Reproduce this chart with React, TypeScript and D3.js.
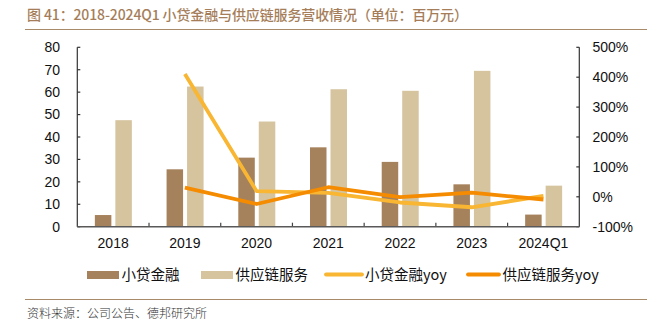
import React from "react";
import * as d3 from "d3";

const categories = ["2018", "2019", "2020", "2021", "2022", "2023", "2024Q1"];
const microLoan = [5.2, 25.6, 30.8, 35.4, 28.9, 18.9, 5.4];
const supplyChain = [47.5, 62.5, 46.9, 61.3, 60.6, 69.5, 18.3];
const microLoanYoy: (number | null)[] = [null, 411, 19, 13, -19, -35, 3];
const supplyChainYoy: (number | null)[] = [null, 31, -24, 32, -1, 14, -9];
const leftTicks = [0, 10, 20, 30, 40, 50, 60, 70, 80];
const rightTicks = [-100, 0, 100, 200, 300, 400, 500];

const title = "图 41：2018-2024Q1 小贷金融与供应链服务营收情况（单位：百万元）";
const source = "资料来源：公司公告、德邦研究所";
const seriesNames = ["小贷金融", "供应链服务", "小贷金融yoy", "供应链服务yoy"];

const C_DARK = "#A6825C";
const C_LIGHT = "#D5C49E";
const C_YEL = "#F8B632";
const C_ORG = "#F58B00";
const C_TAN = "#A88A68";

export default function App() {
  const W = 658, H = 331;
  const left = 77.3, right = 579.3, top = 47.3, bottom = 226.7;
  const x0 = d3.scaleBand<string>().domain(categories).range([left, right]).paddingInner(0).paddingOuter(0);
  const bw = x0.bandwidth();
  const x1 = d3.scaleBand<string>().domain(["a", "b"]).range([bw / 2 - 18.3, bw / 2 + 18.7]).paddingInner(0.195);
  const yL = d3.scaleLinear().domain([0, 80]).range([bottom, top]);
  const yR = d3.scaleLinear().domain([-100, 500]).range([bottom, top]);
  const cx = (c: string) => (x0(c) as number) + bw / 2;

  const line = d3
    .line<number | null>()
    .defined((d) => d !== null)
    .x((_, i) => cx(categories[i]))
    .y((d) => yR(d as number));

  const font = "'Liberation Sans', Arial, sans-serif";
  const cjk = "'Noto Sans CJK SC', 'Liberation Sans', sans-serif";

  return (
    <svg width={W} height={H} style={{ position: "absolute", left: 0, top: 0, background: "#fff" }}>
      <text x={27} y={20} fontFamily={cjk} fontSize={14} fontWeight={500} fill="#A57E59" textLength={441} lengthAdjust="spacing">
        {title}
      </text>
      <line x1={25} x2={647} y1={29.5} y2={29.5} stroke={C_TAN} strokeWidth={1.2} />

      {/* bars */}
      {categories.map((c, i) => (
        <g key={c} transform={`translate(${x0(c)},0)`}>
          <rect x={x1("a")} width={x1.bandwidth()} y={yL(microLoan[i])} height={yL(0) - yL(microLoan[i])} fill={C_DARK} />
          <rect x={x1("b")} width={x1.bandwidth()} y={yL(supplyChain[i])} height={yL(0) - yL(supplyChain[i])} fill={C_LIGHT} />
        </g>
      ))}

      {/* axes */}
      <line x1={left} x2={left} y1={top} y2={bottom} stroke="#333" strokeWidth={1.2} />
      <line x1={right} x2={right} y1={top} y2={bottom} stroke="#333" strokeWidth={1.2} />
      {leftTicks.map((t) => (
        <g key={"l" + t}>
          <line x1={left} x2={left + 3} y1={yL(t)} y2={yL(t)} stroke="#333" strokeWidth={1.2} />
          <text x={60} y={yL(t)} dy="0.35em" textAnchor="end" fontFamily={font} fontSize={14} fill="#111">
            {t}
          </text>
        </g>
      ))}
      {rightTicks.map((t) => (
        <g key={"r" + t}>
          <line x1={right - 3} x2={right} y1={yR(t)} y2={yR(t)} stroke="#333" strokeWidth={1.2} />
          <text x={592.5} y={yR(t)} dy="0.35em" textAnchor="start" fontFamily={font} fontSize={14} fill="#111">
            {t}%
          </text>
        </g>
      ))}
      {categories.slice(1).map((c) => (
        <line key={"t" + c} x1={x0(c)} x2={x0(c)} y1={bottom - 4} y2={bottom} stroke="#444" strokeWidth={1.2} />
      ))}
      <line x1={left} x2={right} y1={bottom} y2={bottom} stroke="#595959" strokeWidth={1.6} />
      {categories.map((c) => (
        <text key={"x" + c} x={cx(c)} y={243} dy="0.35em" textAnchor="middle" fontFamily={font} fontSize={14} fill="#111">
          {c}
        </text>
      ))}

      {/* lines */}
      <path d={line(microLoanYoy) || ""} fill="none" stroke={C_YEL} strokeWidth={3.8} strokeLinejoin="round" />
      <path d={line(supplyChainYoy) || ""} fill="none" stroke={C_ORG} strokeWidth={3.8} strokeLinejoin="round" />

      {/* legend */}
      <rect x={87} y={271} width={32} height={8} fill={C_DARK} />
      <text x={121.5} y={275} dy="0.36em" fontFamily={cjk} fontSize={14.5} fill="#111">{seriesNames[0]}</text>
      <rect x={201} y={271} width={32} height={8} fill={C_LIGHT} />
      <text x={235.5} y={275} dy="0.36em" fontFamily={cjk} fontSize={14.5} fill="#111">{seriesNames[1]}</text>
      <line x1={326} x2={362} y1={274.5} y2={274.5} stroke={C_YEL} strokeWidth={3.8} strokeLinecap="round" />
      <text x={365} y={275} dy="0.36em" fontFamily={cjk} fontSize={14.5} fill="#111">{seriesNames[2]}</text>
      <line x1={468} x2={499} y1={274.5} y2={274.5} stroke={C_ORG} strokeWidth={3.8} strokeLinecap="round" />
      <text x={502.5} y={275} dy="0.36em" fontFamily={cjk} fontSize={14.5} fill="#111">{seriesNames[3]}</text>

      <line x1={25} x2={647} y1={299.5} y2={299.5} stroke={C_TAN} strokeWidth={1.2} />
      <text x={27} y={314} dy="0.35em" fontFamily={cjk} fontSize={12} fontWeight={300} fill="#333" textLength={180} lengthAdjust="spacing">
        {source}
      </text>
    </svg>
  );
}
